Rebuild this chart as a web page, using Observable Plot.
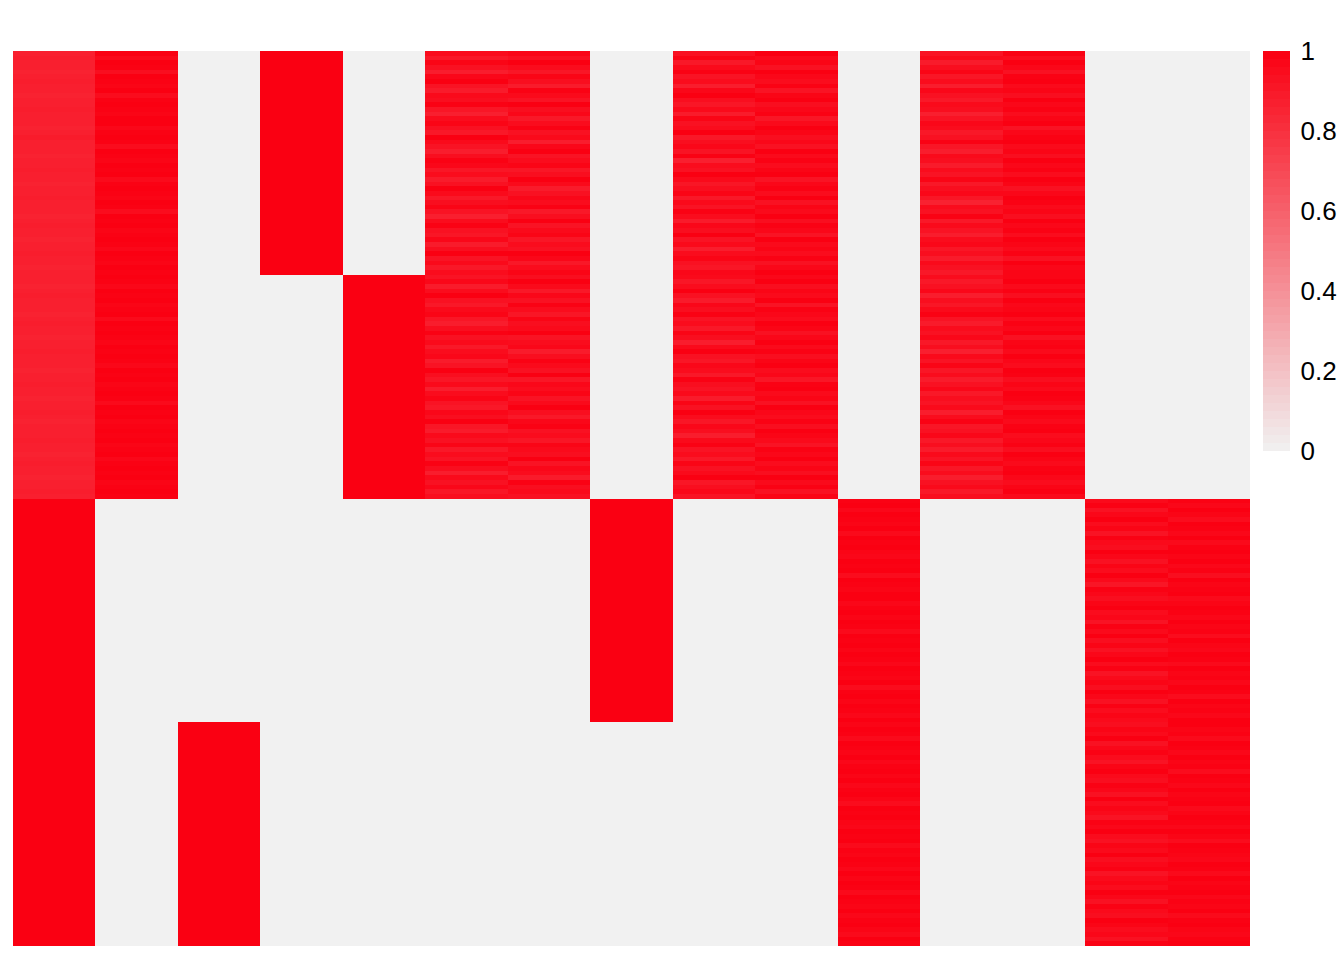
<!DOCTYPE html>
<html><head><meta charset="utf-8">
<script src="https://cdn.jsdelivr.net/npm/d3@7"></script>
<script src="https://cdn.jsdelivr.net/npm/@observablehq/plot@0.6"></script>
<style>
body{margin:0;background:#fff;}
#wrap{position:relative;width:1344px;height:960px;font-family:"Liberation Sans",Arial,Helvetica,sans-serif;}
#wrap svg{position:absolute;top:0;}
</style>
</head><body><div id="wrap"></div>
<script>
const columns = ["C1","C2","C3","C4","C5","C6","C7","C8","C9","C10","C11","C12","C13","C14","C15"];
const blocks = ["A","B","C","D"];
const rowsPerBlock = 48;
const legendTicks = [0, 0.2, 0.4, 0.6, 0.8, 1];

const s0A = [0.87,0.88,0.87,0.87,0.86,0.87,0.88,0.87,0.87,0.86,0.87,0.87,
0.88,0.87,0.87,0.87,0.86,0.87,0.89,0.87,0.87,0.87,0.86,0.87,
0.87,0.88,0.87,0.87,0.86,0.87,0.87,0.88,0.87,0.87,0.87,0.86,
0.87,0.88,0.87,0.87,0.86,0.87,0.87,0.88,0.87,0.87,0.86,0.87];
const s0B = [0.87,0.87,0.86,0.87,0.88,0.87,0.87,0.87,0.86,0.87,0.88,0.87,
0.87,0.86,0.87,0.87,0.88,0.87,0.87,0.87,0.86,0.87,0.87,0.88,
0.87,0.87,0.86,0.87,0.87,0.88,0.87,0.86,0.87,0.87,0.87,0.88,
0.87,0.87,0.86,0.87,0.88,0.87,0.87,0.86,0.87,0.87,0.88,0.87];
const s1A = [0.99,0.96,1,0.99,0.94,1,0.99,0.98,1,0.95,0.99,1,
0.99,0.98,1,1,0.97,0.99,1,0.99,0.95,1,0.99,0.98,
1,0.99,1,0.96,0.99,1,0.99,0.98,1,0.99,0.95,1,
0.99,1,0.98,0.99,1,0.99,0.97,1,0.99,0.98,1,0.99];
const s1B = [1,0.99,0.97,1,0.99,1,0.98,0.99,1,0.96,1,0.99,
1,0.99,0.98,1,0.99,1,0.99,0.97,1,0.99,1,0.98,
0.99,1,0.99,0.96,1,0.99,1,0.98,0.99,1,0.99,1,
0.98,0.99,1,0.97,0.99,1,0.99,1,0.98,0.99,1,0.99];
const s5A = [0.95,0.90,0.98,0.93,0.88,0.97,1,0.92,0.89,0.96,0.94,0.99,
0.91,0.87,0.95,0.98,0.93,0.90,1,0.96,0.92,0.88,0.94,0.99,
0.97,0.91,0.95,0.89,0.93,1,0.96,0.90,0.94,0.98,0.92,0.87,
0.95,0.99,0.93,0.91,0.97,0.89,0.94,1,0.92,0.96,0.90,0.95];
const s5B = [0.92,0.97,0.89,0.95,1,0.93,0.90,0.96,0.98,0.91,0.88,0.94,
0.99,0.93,0.96,0.90,0.95,0.97,0.89,0.92,1,0.94,0.91,0.96,
0.88,0.95,0.98,0.92,0.90,0.97,0.94,1,0.91,0.89,0.96,0.93,
0.98,0.90,0.95,0.92,0.99,0.94,0.88,0.96,0.93,0.97,0.91,0.94];
const s6A = [0.97,0.93,1,0.95,0.91,0.98,0.94,0.89,0.99,0.96,0.92,1,
0.94,0.97,0.90,0.95,0.99,0.93,0.96,0.88,0.97,1,0.92,0.95,
0.98,0.91,0.94,1,0.96,0.89,0.93,0.97,0.95,0.99,0.90,0.94,
1,0.92,0.96,0.98,0.91,0.95,0.93,1,0.97,0.90,0.95,0.98];
const s6B = [0.94,1,0.96,0.90,0.97,0.93,0.99,0.95,0.91,0.98,0.94,0.96,
1,0.92,0.95,0.97,0.89,0.94,0.99,0.96,0.93,1,0.91,0.97,
0.95,0.98,0.92,0.96,1,0.94,0.90,0.97,0.99,0.93,0.95,0.91,
0.98,0.96,0.94,1,0.92,0.97,0.95,0.89,0.99,0.94,0.96,0.93];
const s8A = [0.93,0.98,0.90,0.96,0.99,0.92,0.95,0.88,0.97,1,0.94,0.91,
0.96,0.89,0.98,0.93,0.95,1,0.90,0.94,0.97,0.92,0.99,0.87,
0.95,0.93,1,0.96,0.91,0.94,0.98,0.90,0.96,0.92,0.99,0.95,
0.89,0.97,0.94,1,0.92,0.96,0.88,0.95,0.98,0.93,0.91,0.97];
const s8B = [0.96,0.91,0.95,1,0.93,0.89,0.97,0.94,0.99,0.92,0.95,0.90,
0.98,0.94,0.88,0.96,1,0.93,0.91,0.97,0.95,0.90,0.99,0.94,
0.92,0.96,0.89,0.98,0.93,1,0.95,0.91,0.97,0.94,0.88,0.96,
0.99,0.92,0.95,0.90,0.98,0.93,0.96,1,0.91,0.94,0.97,0.92];
const s9A = [1,0.96,0.98,0.93,1,0.97,0.95,0.99,0.92,0.98,1,0.94,
0.97,0.99,0.91,0.96,1,0.98,0.94,0.97,0.93,1,0.96,0.99,
0.95,0.98,1,0.92,0.97,0.99,0.95,1,0.93,0.98,0.96,1,
0.94,0.99,0.97,0.92,1,0.96,0.98,0.95,0.99,0.93,0.97,1];
const s9B = [0.97,1,0.94,0.98,0.96,1,0.92,0.99,0.97,0.95,1,0.98,
0.93,0.97,1,0.96,0.99,0.94,0.98,1,0.95,0.97,0.91,0.99,
1,0.96,0.98,0.93,1,0.97,0.95,0.99,0.94,1,0.98,0.96,
0.92,0.99,0.97,1,0.95,0.98,0.94,1,0.96,0.99,0.93,0.98];
const s10C = [0.99,1,0.97,1,0.99,0.98,1,0.96,1,0.99,1,0.98,
0.97,1,0.99,1,0.95,1,0.99,0.98,1,1,0.97,0.99,
1,0.98,1,0.99,0.96,1,0.99,1,0.98,1,0.99,0.97,
1,0.99,0.98,1,0.95,0.99,1,0.98,1,0.99,0.97,1];
const s10D = [0.98,1,0.99,0.96,1,0.99,0.98,1,0.97,0.99,1,0.98,
1,0.97,0.99,1,0.98,0.95,1,0.99,1,0.98,0.97,1,
0.99,1,0.96,0.99,0.98,1,0.99,0.97,1,0.98,1,0.99,
0.96,1,0.99,0.98,1,0.97,0.99,1,0.98,0.96,1,0.99];
const s11A = [0.92,0.96,0.89,0.94,0.98,0.91,0.95,0.88,0.97,0.93,0.90,0.96,
0.94,0.87,0.92,0.97,0.95,0.90,0.93,0.99,0.91,0.88,0.96,0.94,
0.89,0.95,0.92,0.98,0.90,0.94,0.97,0.91,0.86,0.95,0.93,0.99,
0.90,0.96,0.92,0.88,0.95,0.97,0.91,0.94,0.89,0.96,0.93,0.90];
const s11B = [0.95,0.90,0.93,0.97,0.88,0.94,0.91,0.96,0.99,0.92,0.89,0.95,
0.93,0.97,0.90,0.94,0.87,0.96,0.92,0.98,0.91,0.95,0.89,0.93,
0.97,0.90,0.94,0.92,0.96,0.88,0.95,0.99,0.91,0.93,0.97,0.90,
0.94,0.89,0.96,0.92,0.98,0.91,0.95,0.88,0.93,0.96,0.90,0.94];
const s12A = [0.99,0.95,1,0.97,0.93,0.99,1,0.96,0.98,0.94,1,0.97,
0.99,0.95,0.98,1,0.92,0.97,0.99,1,0.96,0.98,0.94,1,
0.97,0.99,0.95,1,0.98,0.93,0.97,1,0.99,0.96,0.98,0.94,
1,0.97,0.99,0.95,1,0.98,0.96,0.99,0.93,1,0.97,0.98];
const s12B = [0.98,1,0.96,0.99,0.94,1,0.97,0.98,1,0.95,0.99,0.97,
1,0.93,0.98,0.99,0.96,1,0.97,0.95,1,0.99,0.94,0.98,
0.96,1,0.99,0.97,0.93,1,0.98,0.96,0.99,1,0.95,0.97,
0.99,0.94,1,0.98,0.96,0.99,1,0.97,0.95,0.98,1,0.96];
const s13C = [0.96,0.99,0.93,0.97,1,0.95,0.98,0.92,0.99,0.96,0.94,1,
0.97,0.93,0.98,0.95,1,0.96,0.91,0.99,0.97,0.94,0.98,1,
0.95,0.97,0.92,0.99,0.96,1,0.94,0.98,0.93,0.97,1,0.95,
0.99,0.92,0.96,0.98,0.94,1,0.97,0.93,0.99,0.95,0.98,0.96];
const s13D = [0.94,0.98,0.96,1,0.93,0.97,0.99,0.95,0.92,0.98,1,0.96,
0.94,0.99,0.97,0.93,1,0.95,0.98,0.96,0.92,0.99,0.97,1,
0.95,0.93,0.98,0.96,1,0.94,0.97,0.99,0.92,0.96,0.98,0.95,
1,0.97,0.93,0.99,0.96,0.94,1,0.98,0.95,0.97,0.93,0.99];
const s14C = [0.99,0.97,1,0.98,0.95,1,0.99,0.97,1,0.96,0.99,1,
0.98,1,0.97,0.99,0.94,1,0.98,0.99,1,0.96,0.98,1,
0.99,0.97,1,0.98,0.99,0.95,1,0.98,0.97,1,0.99,0.96,
1,0.98,0.99,0.97,1,0.99,0.95,1,0.98,0.99,0.97,1];
const s14D = [1,0.98,0.99,0.96,1,0.99,0.97,1,0.98,0.99,0.95,1,
0.99,0.97,1,0.98,0.99,1,0.96,0.98,1,0.99,0.97,1,
0.98,0.95,1,0.99,0.98,0.97,1,0.99,0.96,1,0.98,0.99,
1,0.97,0.99,0.98,1,0.96,0.99,1,0.98,0.97,0.99,1];

// per column: value (constant) or row series for blocks A, B, C, D
const layout = [
  [s0A, s0B, 1, 1],
  [s1A, s1B, 0, 0],
  [0, 0, 0, 1],
  [1, 0, 0, 0],
  [0, 1, 0, 0],
  [s5A, s5B, 0, 0],
  [s6A, s6B, 0, 0],
  [0, 0, 1, 0],
  [s8A, s8B, 0, 0],
  [s9A, s9B, 0, 0],
  [0, 0, s10C, s10D],
  [s11A, s11B, 0, 0],
  [s12A, s12B, 0, 0],
  [0, 0, s13C, s13D],
  [0, 0, s14C, s14D]
];

const data = [];
layout.forEach((blk, ci) => blk.forEach((v, bi) => {
  for (let r = 0; r < rowsPerBlock; r++) {
    data.push({col: columns[ci], block: blocks[bi], row: bi * rowsPerBlock + r,
      value: Array.isArray(v) ? v[r] : v});
  }
}));

const colorSpec = {type: "linear", domain: [0, 1], range: ["#f1f1f1", "#fa0012"], interpolate: "rgb"};

const heat = Plot.plot({
  width: 1344, height: 960,
  marginLeft: 13, marginRight: 94, marginTop: 51, marginBottom: 14,
  x: {domain: columns, axis: null, padding: 0, round: false},
  y: {domain: d3.range(blocks.length * rowsPerBlock), axis: null, padding: 0, round: false},
  color: colorSpec,
  marks: [
    Plot.cell(data, {x: "col", y: "row", fill: "value", inset: 0, shapeRendering: "crispEdges"})
  ]
});
heat.style.left = "0px";

const steps = d3.range(0, 50).map(i => i / 50);
const legend = Plot.plot({
  width: 81, height: 960,
  marginLeft: 0, marginRight: 54, marginTop: 51, marginBottom: 509,
  style: {fontFamily: "'Liberation Sans', Arial, Helvetica, sans-serif", fontSize: "26px", color: "#000", background: "transparent", overflow: "visible"},
  y: {domain: [0, 1]},
  color: colorSpec,
  marks: [
    Plot.rect(steps, {y1: d => d, y2: d => d + 0.02, fill: d => d + 0.01, shapeRendering: "crispEdges"}),
    Plot.axisY(legendTicks, {anchor: "right", tickSize: 0, tickPadding: 10, tickFormat: d => String(d), fontSize: 26, fill: "#000"})
  ]
});
legend.style.left = "1263px";

document.getElementById("wrap").append(heat, legend);
</script>
</body></html>
